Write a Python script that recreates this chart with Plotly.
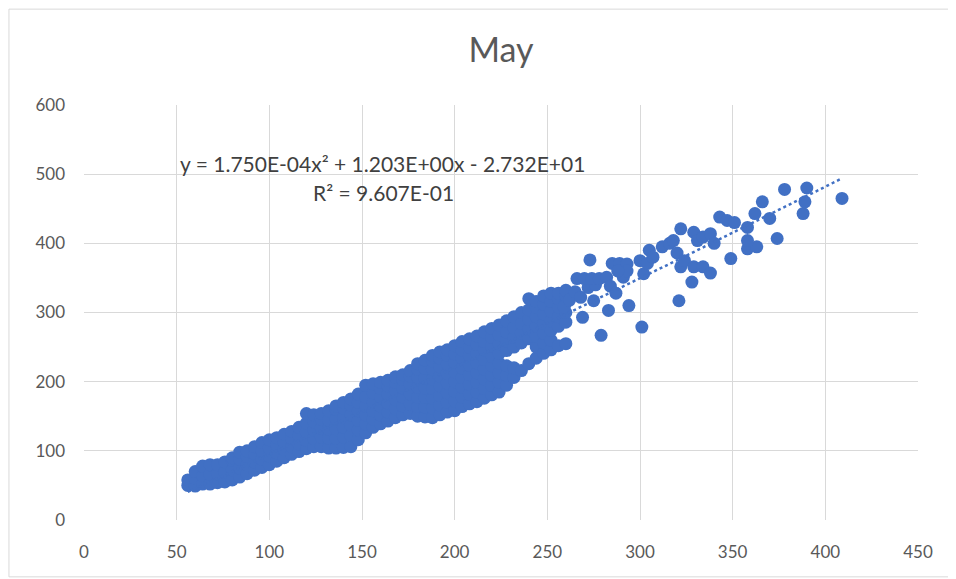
import numpy as np
import plotly.graph_objects as go

# May readings.
# dense part of the cloud: one column of y readings per x position
band_x = [56, 60, 64, 68, 72, 76, 80, 84, 88, 92, 96, 100, 104, 108, 112, 116,
          120, 124, 128, 132, 136, 140, 144, 148, 152, 156, 160, 164, 168, 172,
          176, 180, 184, 188, 192, 196, 200, 204, 208, 212, 216, 220, 224, 228,
          232, 236, 240, 244, 248, 252, 256, 260]
band_y = [
    [50, 58],
    [49, 60, 70],
    [52, 64, 78],
    [52, 66, 80],
    [54, 67, 80],
    [55, 69, 84],
    [58, 72, 86, 90],
    [62, 75, 88, 98],
    [67, 80, 92, 100],
    [72, 84, 96, 106],
    [76, 88, 100, 112],
    [80, 92, 104, 116],
    [85, 97, 109, 119],
    [90, 102, 113, 124],
    [95, 106, 118, 128],
    [99, 110, 122, 134],
    [103, 115, 127, 140, 154],
    [106, 118, 130, 142, 152],
    [106, 120, 133, 146, 154],
    [104, 118, 131, 144, 158],
    [104, 118, 132, 146, 160, 165],
    [105, 120, 134, 148, 162, 170],
    [106, 122, 137, 152, 166, 175],
    [116, 130, 144, 158, 170, 182],
    [126, 139, 152, 165, 178, 195],
    [134, 146, 158, 171, 184, 197],
    [139, 152, 165, 178, 190, 199],
    [143, 156, 169, 182, 194, 202],
    [148, 161, 174, 187, 199, 207],
    [152, 165, 178, 191, 203, 210],
    [154, 168, 182, 196, 208, 216],
    [150, 164, 178, 192, 206, 218, 226],
    [149, 163, 177, 191, 205, 219, 231],
    [148, 162, 176, 190, 204, 218, 230, 238],
    [152, 166, 180, 194, 208, 222, 234, 243],
    [156, 170, 184, 198, 212, 226, 238, 246],
    [158, 172, 186, 200, 214, 228, 240, 252],
    [164, 178, 192, 206, 220, 234, 246, 258],
    [168, 182, 196, 210, 224, 238, 250, 262],
    [171, 185, 199, 213, 227, 241, 254, 266],
    [176, 190, 204, 218, 232, 246, 258, 272],
    [181, 195, 209, 223, 237, 251, 264, 277],
    [185, 199, 213, 227, 241, 255, 268, 282],
    [195, 209, 223, 245, 259, 272, 288],
    [206, 220, 250, 264, 278, 294],
    [216, 256, 270, 284, 300],
    [226, 262, 276, 290, 304, 320],
    [234, 250, 266, 280, 294, 308, 316],
    [241, 256, 270, 284, 298, 312, 324],
    [246, 260, 274, 288, 302, 316, 328],
    [252, 280, 294, 308, 320, 328],
    [255, 286, 300, 314, 324, 332],
]

# sparser points on the right, (x, y)
outer_pts = [
    (259, 308), (262, 318), (265, 330), (268, 322), (272, 336), (276, 340),
    (266, 349), (270, 349), (274, 349), (278, 349), (282, 351), (284, 338),
    (287, 328), (294, 310), (283, 303), (269, 293), (275, 317), (279, 267),
    (301, 279), (273, 376), (285, 371), (289, 371), (293, 370),
    (300, 375), (305, 390), (302, 356), (291, 351), (293, 360), (288, 360),
    (304, 371), (307, 380), (312, 395), (316, 400), (318, 404), (320, 386),
    (322, 366), (324, 375), (322, 421), (329, 416), (331, 404), (334, 409),
    (338, 414), (340, 400), (343, 438), (347, 433), (351, 430), (329, 366),
    (334, 366), (338, 357), (328, 344), (321, 317), (349, 378), (358, 392),
    (363, 395), (358, 404), (358, 423), (362, 443), (366, 460), (370, 436),
    (374, 407), (378, 478), (388, 443), (389, 460), (390, 480), (409, 465),
]

# polynomial trendline shown on the chart (order 2)
trend_coef = [1.750e-04, 1.203e+00, -2.732e+01]
eq_text = "y = 1.750E-04x² + 1.203E+00x - 2.732E+01"
r2_text = "R² = 9.607E-01"

x_ticks = [0, 50, 100, 150, 200, 250, 300, 350, 400, 450]
y_ticks = [0, 100, 200, 300, 400, 500, 600]

xs, ys = [], []
for bx, col in zip(band_x, band_y):
    for v in col:
        xs.append(bx)
        ys.append(v)
xs += [p[0] for p in outer_pts]
ys += [p[1] for p in outer_pts]

blue = "#4170C4"
grey_txt = "#595959"

fig = go.Figure()

fig.add_trace(go.Scatter(
    x=xs, y=ys, mode="markers",
    marker=dict(size=13, color=blue, line=dict(width=0)),
    showlegend=False, hoverinfo="x+y"))

tx = np.linspace(min(xs), max(xs), 200)
fig.add_trace(go.Scatter(
    x=tx, y=np.polyval(trend_coef, tx), mode="lines",
    line=dict(color=blue, width=2.5, dash="dot"),
    showlegend=False, hoverinfo="skip"))

fig.add_annotation(x=161, y=516, text=eq_text, showarrow=False,
                   font=dict(family="Lato", size=21, color="#404040"))
fig.add_annotation(x=161.5, y=473, text=r2_text, showarrow=False,
                   font=dict(family="Lato", size=21, color="#404040"))

# light frame round the whole chart
fig.add_shape(type="rect", xref="paper", yref="paper",
              x0=-0.09, x1=1.039, y0=-0.137, y1=1.231,
              line=dict(color="#d9d9d9", width=1), layer="below")

# the page adds an 8px body margin, so the figure is 8px smaller
fig.update_layout(
    width=948, height=571,
    margin=dict(l=76, r=38, t=97, b=59),
    paper_bgcolor="white", plot_bgcolor="white",
    font=dict(family="Lato", color=grey_txt, size=17),
    title=dict(text="May", x=0.5, xref="paper", xanchor="center",
               y=1 - 42 / 571, yref="container", yanchor="middle",
               font=dict(family="Lato", size=34, color=grey_txt)),
)

fig.update_xaxes(range=[0, 450], tickvals=x_ticks, showgrid=True,
                 gridcolor="#d9d9d9", gridwidth=1, zeroline=False,
                 showline=False, ticklabelstandoff=20,
                 tickfont=dict(size=17, color=grey_txt))
fig.update_yaxes(range=[0, 600], tickvals=y_ticks, showgrid=True,
                 gridcolor="#d9d9d9", gridwidth=1, zeroline=False,
                 showline=False, ticklabelstandoff=18,
                 tickfont=dict(size=17, color=grey_txt))

fig.write_html("out.html")
